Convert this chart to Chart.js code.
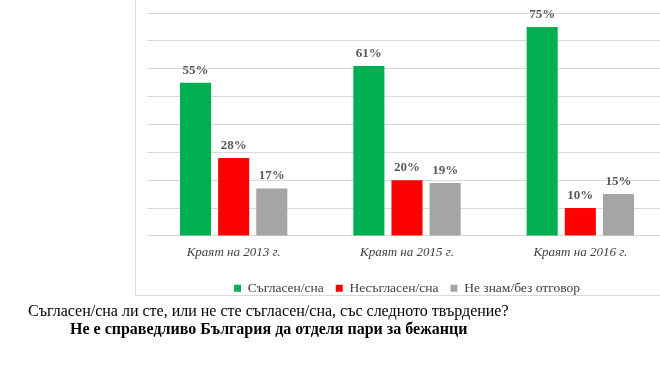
<!DOCTYPE html>
<html>
<head>
<meta charset="utf-8">
<script src="https://cdn.jsdelivr.net/npm/chart.js@4"></script>
<style>
  html, body { margin: 0; padding: 0; background: #fff; overflow: hidden; }
  body { width: 660px; height: 369px; position: relative; }
  #box { position: absolute; left: 135px; top: -10px; width: 600px; height: 304px; border: 1px solid #d9d9d9; }
  #wrap { position: absolute; left: 135px; top: 0px; width: 560px; height: 305px; }
  .q { position: absolute; font-family: "Liberation Serif", "Times New Roman", serif; font-size: 16px; color: #000; white-space: nowrap; }
</style>
</head>
<body>
<div id="box"></div>
<div id="wrap"><canvas id="surveyChart"></canvas></div>
<div class="q" style="left:28px; top:302px;">Съгласен/сна ли сте, или не сте съгласен/сна, със следното твърдение?</div>
<div class="q" style="left:70px; top:320px; font-weight:bold;">Не е справедливо България да отделя пари за бежанци</div>
<script>
var periods = ['Краят на 2013 г.', 'Краят на 2015 г.', 'Краят на 2016 г.'];
var agree = [55, 61, 75];
var disagree = [28, 20, 10];
var noAnswer = [17, 19, 15];

// percent labels over the bars
var barLabels = {
    id: 'barLabels',
    afterDatasetsDraw: function(chart) {
        var ctx = chart.ctx;
        ctx.save();
        ctx.font = 'bold 13px "Liberation Serif", serif';
        ctx.fillStyle = '#595959';
        ctx.textAlign = 'center';
        ctx.textBaseline = 'bottom';
        chart.data.datasets.forEach(function(ds, i) {
            chart.getDatasetMeta(i).data.forEach(function(bar, j) {
                ctx.fillText(ds.data[j] + '%', bar.x, bar.y - 6);
            });
        });
        ctx.restore();
    }
};

var surveyChart = new Chart(document.getElementById('surveyChart').getContext('2d'), {
    type: 'bar',
    data: {
        labels: periods,
        datasets: [
            { label: 'Съгласен/сна', data: agree, backgroundColor: '#00B050' },
            { label: 'Несъгласен/сна', data: disagree, backgroundColor: '#FF0000' },
            { label: 'Не знам/без отговор', data: noAnswer, backgroundColor: '#A5A5A5' }
        ]
    },
    options: {
        responsive: true,
        maintainAspectRatio: false,
        animation: false,
        layout: { padding: { left: 12, right: 28, top: 13, bottom: 0 } },
        datasets: { bar: { barPercentage: 0.815, categoryPercentage: 0.66 } },
        scales: {
            x: {
                grid: { display: false, drawTicks: false },
                border: { display: false },
                ticks: {
                    padding: 9,
                    color: '#404040',
                    font: { family: '"Liberation Serif", serif', size: 13, style: 'italic' }
                }
            },
            y: {
                min: 0,
                max: 80,
                ticks: { display: false, stepSize: 10 },
                grid: { color: '#d9d9d9', drawTicks: false },
                border: { display: false }
            }
        },
        plugins: {
            tooltip: { enabled: false },
            legend: {
                position: 'bottom',
                labels: {
                    boxWidth: 7,
                    boxHeight: 7,
                    padding: 12,
                    color: '#404040',
                    font: { family: '"Liberation Serif", serif', size: 13.5 }
                }
            }
        }
    },
    plugins: [barLabels]
});
</script>
</body>
</html>
